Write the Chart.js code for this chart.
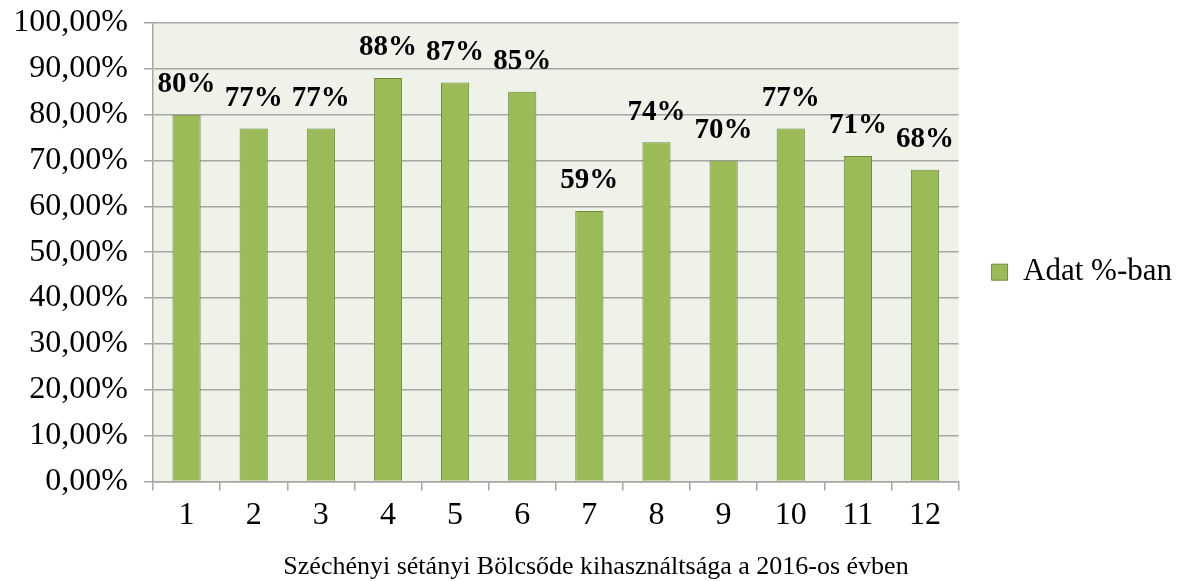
<!DOCTYPE html>
<html>
<head>
<meta charset="utf-8">
<script src="https://cdn.jsdelivr.net/npm/chart.js@4/dist/chart.umd.min.js"></script>
<style>
  html, body { margin: 0; padding: 0; background: #ffffff; }
  #wrap { width: 1180px; height: 581px; }
</style>
</head>
<body>
<div id="wrap"><canvas id="c" width="1180" height="581"></canvas></div>
<script>
const months = ['1', '2', '3', '4', '5', '6', '7', '8', '9', '10', '11', '12'];
const usage = [80, 77, 77, 88, 87, 85, 59, 74, 70, 77, 71, 68];
const seriesName = 'Adat %-ban';
const chartTitle = 'Széchényi sétányi Bölcsőde kihasználtsága a 2016-os évben';

const serif = '"Liberation Serif", "Times New Roman", serif';

const plotBg = {
  id: 'plotBg',
  beforeDraw(chart) {
    const a = chart.chartArea, ctx = chart.ctx;
    ctx.save();
    ctx.fillStyle = '#EEF2E8';
    ctx.fillRect(a.left, a.top, a.right - a.left, a.bottom - a.top);
    ctx.restore();
  }
};

const valueLabels = {
  id: 'valueLabels',
  afterDatasetsDraw(chart) {
    const ctx = chart.ctx;
    const meta = chart.getDatasetMeta(0);
    ctx.save();
    ctx.font = 'bold 29px ' + serif;
    ctx.fillStyle = '#000000';
    ctx.textAlign = 'center';
    ctx.textBaseline = 'middle';
    meta.data.forEach((bar, i) => {
      const v = chart.data.datasets[0].data[i];
      ctx.fillText(v + '%', bar.x, bar.y - 30);
    });
    ctx.restore();
  }
};

new Chart(document.getElementById('c'), {
  type: 'bar',
  data: {
    labels: months,
    datasets: [{
      label: seriesName,
      data: usage,
      backgroundColor: '#9BBB59',
      borderColor: '#71893F',
      borderWidth: 1,
      categoryPercentage: 1.0,
      barPercentage: 0.42
    }]
  },
  options: {
    responsive: false,
    animation: false,
    devicePixelRatio: 1,
    layout: { padding: { top: 23, left: 10, right: -2, bottom: -2 } },
    scales: {
      x: {
        grid: {
          offset: true,
          drawOnChartArea: false,
          color: '#A6A6A6',
          lineWidth: 1.5,
          tickLength: 9
        },
        border: { color: '#A6A6A6', width: 1.5 },
        ticks: {
          color: '#000000',
          font: { family: serif, size: 32 },
          padding: 6
        }
      },
      y: {
        min: 0,
        max: 100,
        afterFit: (scale) => {
          scale.width = 143;
          scale.paddingTop = 0;
          scale.paddingBottom = 0;
        },
        grid: {
          color: '#A6A6A6',
          lineWidth: 1.5,
          tickLength: 9
        },
        border: { color: '#A6A6A6', width: 1.5 },
        ticks: {
          stepSize: 10,
          color: '#000000',
          font: { family: serif, size: 32 },
          padding: 16,
          callback: (v) => v.toFixed(2).replace('.', ',') + '%'
        }
      }
    },
    plugins: {
      legend: {
        position: 'right',
        fullSize: false,
        title: {
          display: true,
          text: ' ',
          font: { family: serif, size: 10 },
          padding: { top: 14, bottom: 14 }
        },
        labels: {
          color: '#000000',
          font: { family: serif, size: 31 },
          boxWidth: 16,
          boxHeight: 16,
          padding: 33
        }
      },
      title: {
        display: true,
        position: 'bottom',
        text: chartTitle,
        color: '#000000',
        font: { family: serif, size: 26, weight: 'normal' },
        padding: { top: 11, bottom: 0 }
      },
      tooltip: { enabled: false }
    }
  },
  plugins: [plotBg, valueLabels]
});
</script>
</body>
</html>
